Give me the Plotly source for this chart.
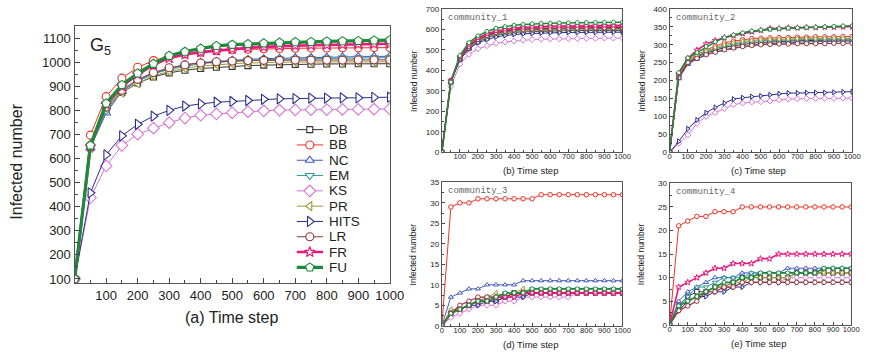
import plotly.graph_objects as go

W, H = 877, 359

steps = [0, 50, 100, 150, 200, 250, 300, 350, 400, 450, 500, 550, 600, 650, 700, 750, 800, 850, 900, 950, 1000]
names = ["DB", "BB", "NC", "EM", "KS", "PR", "HITS", "LR", "FR", "FU"]

# ---- (a) G5 ----
g5_DB = [100, 650, 805, 875, 915, 940, 957, 968, 975, 980, 984, 987, 989, 991, 992, 993, 994, 994, 995, 995, 995]
g5_BB = [100, 698, 858, 935, 980, 1008, 1025, 1036, 1043, 1049, 1053, 1055, 1057, 1058, 1059, 1060, 1060, 1061, 1061, 1062, 1062]
g5_NC = [100, 645, 790, 880, 925, 955, 975, 990, 1000, 1005, 1010, 1013, 1016, 1018, 1020, 1021, 1022, 1023, 1024, 1025, 1026]
g5_EM = [100, 650, 800, 882, 922, 952, 972, 985, 995, 1001, 1006, 1009, 1012, 1014, 1015, 1016, 1017, 1018, 1019, 1019, 1020]
g5_KS = [100, 438, 570, 655, 702, 727, 750, 769, 781, 786, 791, 796, 799, 802, 803, 804, 804, 805, 805, 806, 807]
g5_PR = [100, 645, 810, 875, 913, 945, 963, 976, 985, 991, 995, 998, 1000, 1001, 1002, 1002, 1003, 1003, 1003, 1003, 1003]
g5_HITS = [100, 458, 616, 695, 743, 777, 801, 819, 828, 835, 838, 842, 847, 849, 850, 852, 852, 853, 853, 855, 856]
g5_LR = [100, 655, 815, 885, 930, 958, 978, 990, 998, 1003, 1006, 1008, 1009, 1009, 1010, 1010, 1010, 1010, 1011, 1011, 1011]
g5_FR = [100, 650, 825, 900, 950, 990, 1018, 1033, 1043, 1050, 1056, 1061, 1065, 1068, 1070, 1072, 1073, 1075, 1076, 1077, 1078]
g5_FU = [100, 655, 830, 907, 955, 995, 1028, 1045, 1058, 1069, 1074, 1077, 1080, 1083, 1085, 1086, 1088, 1089, 1090, 1092, 1093]

# ---- (b) community_1 ----
c1_DB = [0, 343, 453, 508, 540, 559, 572, 580, 585, 588, 590, 592, 593, 593, 594, 594, 594, 595, 595, 595, 595]
c1_BB = [0, 350, 462, 522, 555, 575, 588, 597, 603, 607, 609, 611, 612, 613, 613, 614, 614, 614, 615, 615, 615]
c1_NC = [0, 345, 458, 515, 548, 568, 581, 589, 595, 598, 600, 602, 603, 603, 604, 604, 604, 605, 605, 605, 605]
c1_EM = [0, 346, 457, 514, 546, 566, 579, 587, 593, 596, 598, 600, 601, 601, 602, 602, 602, 603, 603, 603, 603]
c1_KS = [0, 320, 430, 478, 505, 520, 532, 538, 543, 547, 550, 552, 553, 554, 555, 555, 556, 556, 557, 557, 557]
c1_PR = [0, 344, 455, 510, 542, 562, 575, 583, 588, 591, 593, 595, 596, 596, 597, 597, 597, 598, 598, 598, 598]
c1_HITS = [0, 345, 450, 505, 535, 550, 563, 570, 575, 578, 580, 582, 583, 584, 585, 585, 586, 586, 586, 586, 586]
c1_LR = [0, 347, 460, 518, 551, 571, 584, 592, 598, 601, 603, 605, 606, 606, 607, 607, 607, 608, 608, 608, 608]
c1_FR = [0, 348, 465, 525, 558, 578, 592, 600, 606, 610, 612, 614, 615, 616, 616, 617, 617, 617, 618, 618, 618]
c1_FU = [0, 342, 472, 535, 568, 590, 605, 613, 620, 624, 627, 629, 630, 631, 632, 633, 633, 634, 634, 635, 635]

# ---- (c) community_2 ----
c2_DB = [0, 210, 250, 265, 277, 285, 292, 297, 301, 304, 306, 308, 309, 310, 311, 312, 312, 313, 313, 313, 313]
c2_BB = [0, 215, 258, 272, 285, 296, 305, 310, 314, 317, 318, 319, 320, 320, 321, 321, 322, 322, 322, 323, 323]
c2_NC = [0, 205, 245, 260, 272, 280, 285, 290, 295, 298, 301, 303, 305, 306, 307, 308, 308, 309, 309, 310, 310]
c2_EM = [0, 210, 252, 268, 280, 289, 296, 302, 306, 309, 311, 312, 313, 314, 314, 315, 315, 315, 316, 316, 316]
c2_KS = [0, 25, 48, 80, 100, 110, 122, 133, 137, 140, 141, 143, 146, 148, 149, 150, 150, 150, 150, 151, 151]
c2_PR = [0, 212, 255, 270, 282, 292, 300, 306, 310, 312, 314, 315, 316, 316, 317, 317, 317, 318, 318, 318, 318]
c2_HITS = [0, 30, 65, 90, 110, 125, 137, 148, 152, 155, 157, 160, 163, 165, 165, 166, 166, 166, 167, 168, 169]
c2_LR = [0, 208, 250, 262, 272, 279, 286, 291, 295, 298, 300, 301, 302, 302, 303, 303, 303, 303, 304, 304, 304]
c2_FR = [0, 218, 262, 285, 302, 312, 320, 326, 331, 336, 340, 345, 345, 347, 347, 348, 348, 349, 349, 350, 350]
c2_FU = [0, 222, 263, 278, 295, 308, 320, 327, 333, 338, 341, 343, 345, 346, 347, 348, 349, 350, 351, 352, 353]

# ---- (d) community_3 ----
c3_DB = [0, 3, 4, 5, 6, 6, 6, 7, 8, 8, 8, 8, 8, 8, 8, 8, 8, 8, 8, 8, 8]
c3_BB = [0, 29, 30, 30, 31, 31, 31, 31, 31, 31, 31, 32, 32, 32, 32, 32, 32, 32, 32, 32, 32]
c3_NC = [0, 7, 8, 9, 9, 10, 10, 10, 10, 11, 11, 11, 11, 11, 11, 11, 11, 11, 11, 11, 11]
c3_EM = [0, 3, 4, 5, 6, 7, 7, 8, 8, 8, 9, 9, 9, 9, 9, 9, 9, 9, 9, 9, 9]
c3_KS = [0, 2, 3, 4, 5, 5, 5, 6, 6, 7, 7, 7, 7, 7, 7, 8, 8, 8, 8, 8, 8]
c3_PR = [0, 4, 4, 5, 6, 7, 8, 7, 8, 9, 8, 8, 8, 8, 8, 8, 8, 8, 8, 8, 8]
c3_HITS = [0, 3, 4, 5, 5, 6, 6, 7, 7, 7, 8, 8, 8, 8, 8, 8, 8, 8, 8, 8, 8]
c3_LR = [0, 3, 5, 6, 7, 7, 7, 7, 8, 8, 8, 8, 8, 8, 8, 8, 8, 8, 8, 8, 8]
c3_FR = [0, 3, 4, 5, 6, 6, 7, 7, 7, 8, 8, 8, 8, 8, 8, 8, 8, 8, 8, 8, 8]
c3_FU = [0, 3, 4, 5, 6, 6, 7, 8, 8, 8, 9, 9, 9, 9, 9, 9, 9, 9, 9, 9, 9]

# ---- (e) community_4 ----
c4_DB = [0, 4, 6, 7, 7, 8, 8, 9, 10, 10, 10, 10, 10, 10, 11, 11, 11, 11, 11, 11, 11]
c4_BB = [0, 21, 22, 23, 23, 24, 24, 24, 25, 25, 25, 25, 25, 25, 25, 25, 25, 25, 25, 25, 25]
c4_NC = [0, 5, 7, 8, 9, 10, 10, 10, 11, 11, 11, 11, 11, 12, 12, 12, 12, 12, 12, 12, 12]
c4_EM = [0, 4, 6, 8, 8, 9, 10, 10, 10, 11, 11, 11, 11, 11, 11, 11, 11, 12, 12, 12, 12]
c4_KS = [0, 3, 5, 6, 7, 7, 8, 8, 9, 9, 9, 9, 9, 10, 10, 10, 10, 10, 10, 10, 10]
c4_PR = [0, 4, 5, 6, 7, 8, 8, 9, 9, 10, 10, 10, 10, 10, 11, 11, 11, 11, 11, 11, 11]
c4_HITS = [0, 3, 5, 6, 6, 7, 7, 8, 8, 9, 9, 9, 9, 9, 9, 9, 9, 9, 9, 9, 9]
c4_LR = [0, 3, 4, 5, 7, 7, 8, 8, 9, 9, 9, 9, 9, 9, 9, 9, 9, 9, 9, 9, 9]
c4_FR = [0, 8, 9, 10, 11, 12, 12, 13, 13, 13, 14, 14, 15, 15, 15, 15, 15, 15, 15, 15, 15]
c4_FU = [0, 4, 5, 6, 7, 8, 9, 9, 10, 10, 11, 11, 11, 11, 11, 11, 11, 12, 12, 12, 12]

panels = [
    [g5_DB, g5_BB, g5_NC, g5_EM, g5_KS, g5_PR, g5_HITS, g5_LR, g5_FR, g5_FU],
    [c1_DB, c1_BB, c1_NC, c1_EM, c1_KS, c1_PR, c1_HITS, c1_LR, c1_FR, c1_FU],
    [c2_DB, c2_BB, c2_NC, c2_EM, c2_KS, c2_PR, c2_HITS, c2_LR, c2_FR, c2_FU],
    [c3_DB, c3_BB, c3_NC, c3_EM, c3_KS, c3_PR, c3_HITS, c3_LR, c3_FR, c3_FU],
    [c4_DB, c4_BB, c4_NC, c4_EM, c4_KS, c4_PR, c4_HITS, c4_LR, c4_FR, c4_FU],
]
panel_labels = ["G5", "community_1", "community_2", "community_3", "community_4"]
xtitles = ["(a) Time step", "(b) Time step", "(c) Time step", "(d) Time step", "(e) Time step"]

colors = ["#333333", "#ee3124", "#4358c4", "#2f9a9a", "#d873d8", "#9c9a3a", "#2b2d8c", "#943535", "#e8197c", "#1d8a3a"]
symbols = ["square", "circle", "triangle-up", "triangle-down", "diamond", "triangle-left", "triangle-right", "circle", "star", "pentagon"]
main_sizes = [6, 8, 8, 8, 9, 8, 9, 8, 8, 9]
main_widths = [1, 1, 1, 1, 1, 1, 1, 1, 2.6, 3.2]
small_widths = [1, 1, 1, 1, 1, 1, 1, 1.2, 1.6, 1.6]

# axis rectangles in pixels (left, top, right, bottom)
rects = [(74, 23, 395, 286), (448, 5, 632, 152), (680, 5, 866, 152), (448, 183, 632, 330), (680, 184, 865, 329)]
yranges = [[84, 1150], [0, 700], [0, 400], [0, 35], [0, 30]]
ydticks = [100, 100, 50, 5, 5]
ystarts = [100, 0, 0, 0, 0]

FONT = "Liberation Sans, Arial, sans-serif"
fig = go.Figure()

for p in range(5):
    sfx = "" if p == 0 else str(p + 1)
    for i, nm in enumerate(names):
        if p == 0:
            msize, lw = main_sizes[i], main_widths[i]
        else:
            msize, lw = 4.5, small_widths[i]
        fig.add_trace(go.Scatter(
            x=steps, y=panels[p][i], mode="lines+markers", name=nm, showlegend=False,
            xaxis="x" + sfx, yaxis="y" + sfx,
            line=dict(color=colors[i], width=lw),
            marker=dict(symbol=symbols[i], size=msize, color="white",
                        line=dict(color=colors[i], width=1.1 if p == 0 else 1)),
            cliponaxis=True,
        ))

layout = dict(width=W, height=H, autosize=False, margin=dict(l=0, r=0, t=0, b=0),
              paper_bgcolor="white", plot_bgcolor="white", showlegend=False,
              font=dict(family=FONT, color="#222"))


def ann(text, px, py, size, family=FONT, color="#222", xanchor="center", angle=0):
    return dict(text=text, x=px / W, y=1 - py / H, xref="paper", yref="paper",
                xanchor=xanchor, yanchor="middle", showarrow=False, textangle=angle,
                font=dict(size=size, family=family, color=color))


annotations = []
for p in range(5):
    l, t, r, b = rects[p]
    sfx = "" if p == 0 else str(p + 1)
    main = p == 0
    tf = 13 if main else 8
    xt = list(range(100, 1001, 100)) if p in (0, 1) else list(range(0, 1001, 100))
    layout["xaxis" + sfx] = dict(
        domain=[l / W, r / W], range=[0, 1000], anchor="y" + sfx,
        tickmode="array", tickvals=xt, ticks="inside", ticklen=5 if main else 3, tickangle=0,
        tickcolor="#444", showline=True, mirror=True, linecolor="#555", linewidth=1.4 if main else 1.2,
        showgrid=False, zeroline=False, tickfont=dict(size=13 if main else 7.6, family=FONT, color="#222"),
        ticklabelstandoff=0 if main else -3,
        minor=dict(dtick=50, tick0=0, ticks="inside", ticklen=3 if main else 2, tickcolor="#444"),
    )
    layout["yaxis" + sfx] = dict(
        domain=[1 - b / H, 1 - t / H], range=yranges[p], anchor="x" + sfx,
        tickmode="linear", tick0=ystarts[p], dtick=ydticks[p], ticks="inside", ticklen=5 if main else 3,
        tickcolor="#444", showline=True, mirror=True, linecolor="#555", linewidth=1.4 if main else 1.2,
        showgrid=False, zeroline=False, tickfont=dict(size=tf, family=FONT, color="#222"),
        minor=dict(dtick=ydticks[p] / 2, ticks="inside", ticklen=3 if main else 2, tickcolor="#444"),
    )
    cx = (l + r) / 2
    if main:
        annotations.append(ann(xtitles[p], 234, 322, 16))
        annotations.append(ann("Infected number", 15, 162, 16, angle=-90))
        annotations.append(ann("G<sub>5</sub>", 88, 44, 18, xanchor="left"))
    else:
        annotations.append(ann(xtitles[p], cx - 2, b + 19, 9.5))
        annotations.append(ann("Infected number", l - 29, (t + b) / 2, 8.5, angle=-90))
        annotations.append(ann(panel_labels[p], l + 4, t + 9, 9,
                               family="Liberation Mono, DejaVu Sans Mono, monospace", color="#666", xanchor="left"))

# custom legend inside main panel
layout["xaxis6"] = dict(domain=[300 / W, 327 / W], range=[0, 1], visible=False, anchor="y6", fixedrange=True)
layout["yaxis6"] = dict(domain=[1 - 278 / H, 1 - 121 / H], range=[9.5, -0.5], visible=False, anchor="x6", fixedrange=True)
for i, nm in enumerate(names):
    fig.add_trace(go.Scatter(x=[0, 1], y=[i, i], mode="lines", xaxis="x6", yaxis="y6", showlegend=False,
                             line=dict(color=colors[i], width=main_widths[i]), hoverinfo="skip"))
    fig.add_trace(go.Scatter(x=[0.5], y=[i], mode="markers", xaxis="x6", yaxis="y6", showlegend=False,
                             marker=dict(symbol=symbols[i], size=main_sizes[i], color="white",
                                         line=dict(color=colors[i], width=1.1)), hoverinfo="skip"))
    annotations.append(dict(text=nm, x=1, y=i, xref="x6", yref="y6", xanchor="left", yanchor="middle", xshift=4,
                            showarrow=False, font=dict(size=13.5, family=FONT, color="#222")))

layout["annotations"] = annotations
fig.update_layout(**layout)
fig.write_html("out.html")
